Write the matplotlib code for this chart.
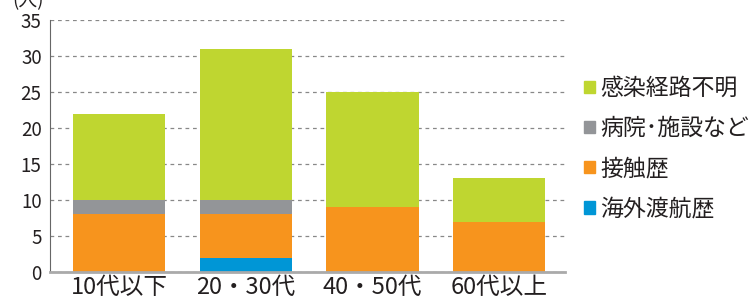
import matplotlib.pyplot as plt
from matplotlib.patches import Patch

plt.rcParams['font.family'] = ['Noto Sans CJK JP', 'DejaVu Sans']

categories = ['10代以下', '20・30代', '40・50代', '60代以上']
series_names = ['海外渡航歴', '接触歴', '病院･施設など', '感染経路不明']
overseas = [0, 2, 0, 0]
contact = [8, 6, 9, 7]
hospital = [2, 2, 0, 0]
unknown = [12, 21, 16, 6]
colors = ['#0096d6', '#f7941d', '#939598', '#bfd630']

fig = plt.figure(figsize=(7.53, 3.03), dpi=100)
ax = fig.add_axes([50 / 753, 31 / 303, 515 / 753, 252 / 303])

x = range(len(categories))
bottom = [0] * len(categories)
for vals, c in zip([overseas, contact, hospital, unknown], colors):
    ax.bar(x, vals, bottom=bottom, width=0.73, color=c, zorder=3)
    bottom = [b + v for b, v in zip(bottom, vals)]

ax.set_ylim(0, 35)
ax.set_xlim(-0.547, 3.52)
ax.set_yticks(range(0, 36, 5))
ax.set_xticks(list(x))
ax.set_xticklabels(categories, fontsize=17, color='#231f20')
ax.tick_params(axis='y', labelsize=13.5, length=0, pad=6, colors='#231f20')
ax.tick_params(axis='x', length=0, pad=3)
ax.yaxis.grid(True, linestyle=(0, (3, 3)), color='#888888', linewidth=0.9, zorder=0)
for s in ['top', 'right']:
    ax.spines[s].set_visible(False)
ax.spines['left'].set_color('#666666')
ax.spines['bottom'].set_color('#aaaaaa')
ax.spines['bottom'].set_linewidth(2)
ax.spines['bottom'].set_zorder(4)

handles = [Patch(color=c) for c in colors][::-1]
ax.legend(handles, series_names[::-1], loc='upper left', bbox_to_anchor=(1.02, 0.81),
          frameon=False, fontsize=16.5, handlelength=0.45, handleheight=0.45,
          handletextpad=0.25, labelspacing=0.75, borderaxespad=0, labelcolor='#231f20')

fig.text(12 / 753, 1 - 0.5 / 303, '(人)', fontsize=13.5, color='#231f20', va='center')

fig.savefig('out.png', dpi=100)
